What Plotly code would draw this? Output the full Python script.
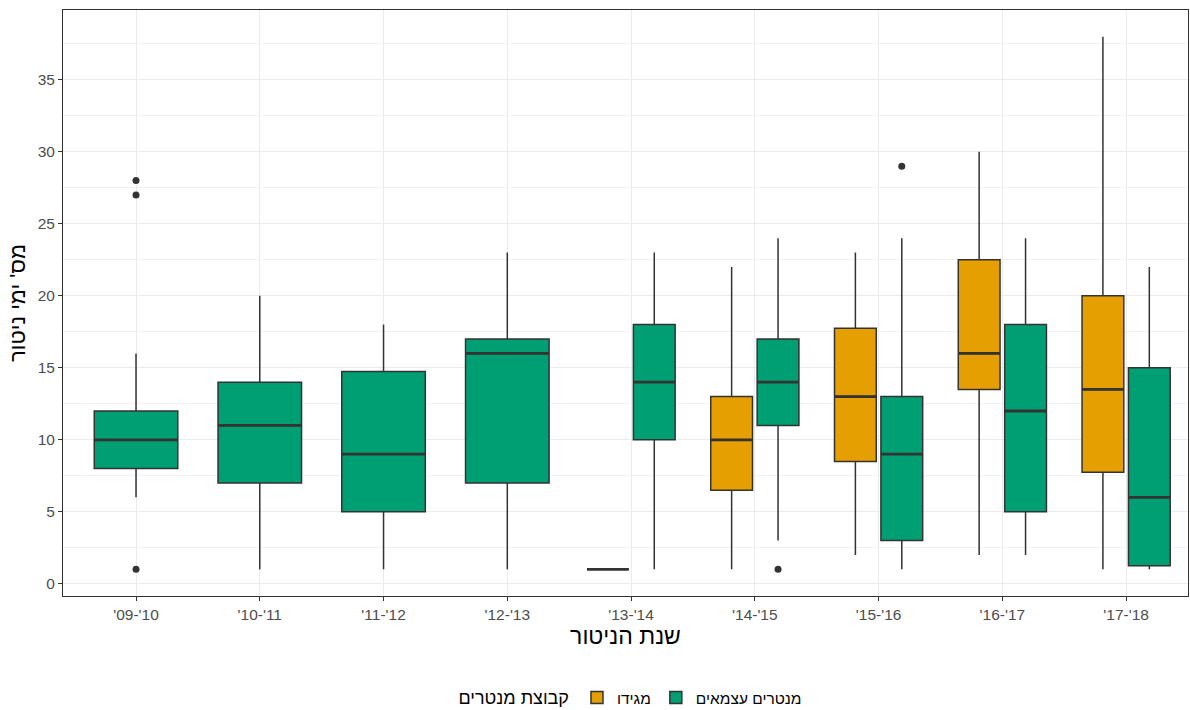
import plotly.graph_objects as go

years = ["'09-'10", "'10-'11", "'11-'12", "'12-'13", "'13-'14", "'14-'15", "'15-'16", "'16-'17", "'17-'18"]

# מנטרים עצמאים (green)
green_q1 = [8, 7, 5, 7, 10, 11, 3, 5, 1.25]
green_med = [10, 11, 9, 16, 14, 14, 9, 12, 6]
green_q3 = [12, 14, 14.75, 17, 18, 17, 13, 18, 15]
green_lo = [6, 1, 1, 1, 1, 3, 1, 2, 1]
green_hi = [16, 20, 18, 23, 23, 24, 24, 24, 22]

# מגידו (orange) - None where group absent
orange_q1 = [None, None, None, None, 1, 6.5, 8.5, 13.5, 7.75]
orange_med = [None, None, None, None, 1, 10, 13, 16, 13.5]
orange_q3 = [None, None, None, None, 1, 13, 17.75, 22.5, 20]
orange_lo = [None, None, None, None, 1, 1, 2, 2, 1]
orange_hi = [None, None, None, None, 1, 22, 23, 30, 38]

# outliers
green_out_year = ["'09-'10", "'09-'10", "'09-'10", "'14-'15", "'15-'16"]
green_out_val = [28, 27, 1, 1, 29]

GREEN = "#009E73"
ORANGE = "#E69F00"
DARK = "#333333"
FONT = "Liberation Sans, Arial, sans-serif"

FULL_W = 0.675
DODGE_W = 0.3375
DODGE_OFF = 0.1875

fig = go.Figure()

single_idx, dodge_idx = [], []
for i, y in enumerate(years):
    if orange_med[i] is None:
        single_idx.append(i)
    else:
        dodge_idx.append(i)

median_x, median_y = [], []

def add_box(idx, positions, width, q1, med, q3, lo, hi, color, name, showlegend):
    fig.add_trace(go.Box(
        x=positions,
        q1=[q1[i] for i in idx], median=[med[i] for i in idx], q3=[q3[i] for i in idx],
        lowerfence=[lo[i] for i in idx], upperfence=[hi[i] for i in idx],
        width=width, fillcolor=color, line=dict(color=DARK, width=1.5),
        whiskerwidth=0, name=name, legendgroup=name, showlegend=showlegend,
        boxpoints=False, hoverinfo="skip",
    ))
    for p, i in zip(positions, idx):
        median_x.extend([p - width / 2, p + width / 2, None])
        median_y.extend([med[i], med[i], None])

# orange dodged
add_box(dodge_idx, [i + 1 - DODGE_OFF for i in dodge_idx], DODGE_W,
        orange_q1, orange_med, orange_q3, orange_lo, orange_hi, ORANGE, "מגידו", True)
# green dodged
add_box(dodge_idx, [i + 1 + DODGE_OFF for i in dodge_idx], DODGE_W,
        green_q1, green_med, green_q3, green_lo, green_hi, GREEN, "מנטרים עצמאים", True)
# green full-width
add_box(single_idx, [i + 1 for i in single_idx], FULL_W,
        green_q1, green_med, green_q3, green_lo, green_hi, GREEN, "מנטרים עצמאים", False)

# thick median lines
fig.add_trace(go.Scatter(x=median_x, y=median_y, mode="lines",
                         line=dict(color=DARK, width=2.8), showlegend=False, hoverinfo="skip"))

# outliers
out_x = []
for yname in green_out_year:
    i = years.index(yname)
    out_x.append(i + 1 + (DODGE_OFF if orange_med[i] is not None else 0))
fig.add_trace(go.Scatter(x=out_x, y=green_out_val, mode="markers",
                         marker=dict(color=DARK, size=7), showlegend=False, hoverinfo="skip"))

grid = "#EBEBEB"
fig.update_layout(
    width=1190, height=710,
    margin=dict(l=63, r=2, t=10, b=114),
    paper_bgcolor="white", plot_bgcolor="white",
    font=dict(family=FONT, color="#000000"),
    boxmode="overlay",
    xaxis=dict(
        range=[0.41, 9.5], automargin=False,
        tickvals=list(range(1, len(years) + 1)), ticktext=years,
        showgrid=True, gridcolor=grid, gridwidth=1.1,
        zeroline=False, showline=True, mirror=True, linecolor=DARK, linewidth=1,
        ticks="outside", ticklen=4, tickwidth=1, tickcolor=DARK,
        tickfont=dict(size=15.5, color="#4D4D4D", family=FONT),
        title=dict(text="שנת הניטור", font=dict(size=23, color="#000000", family=FONT), standoff=6),
    ),
    yaxis=dict(
        range=[-0.85, 39.85], automargin=False,
        tickvals=[0, 5, 10, 15, 20, 25, 30, 35],
        showgrid=True, gridcolor=grid, gridwidth=1.1,
        minor=dict(tickvals=[2.5, 7.5, 12.5, 17.5, 22.5, 27.5, 32.5, 37.5], showgrid=True, gridcolor="#F2F2F2", gridwidth=0.6, ticks=""),
        zeroline=False, showline=True, mirror=True, linecolor=DARK, linewidth=1,
        ticks="outside", ticklen=4, tickwidth=1, tickcolor=DARK,
        tickfont=dict(size=15.5, color="#4D4D4D", family=FONT),
        title=dict(text="מס' ימי ניטור", font=dict(size=22, color="#000000", family=FONT), standoff=5),
    ),
    legend=dict(
        orientation="h", xref="container", yref="container",
        x=0.531, xanchor="center", y=0.017, yanchor="middle",
        title=dict(text="קבוצת מנטרים", side="left", font=dict(size=18, family=FONT)),
        font=dict(size=15.5, family=FONT),
        itemwidth=30,
    ),
)

fig.write_html("out.html", config={"displayModeBar": False},
               post_script="document.body.style.margin='0';document.body.style.overflow='hidden';")
